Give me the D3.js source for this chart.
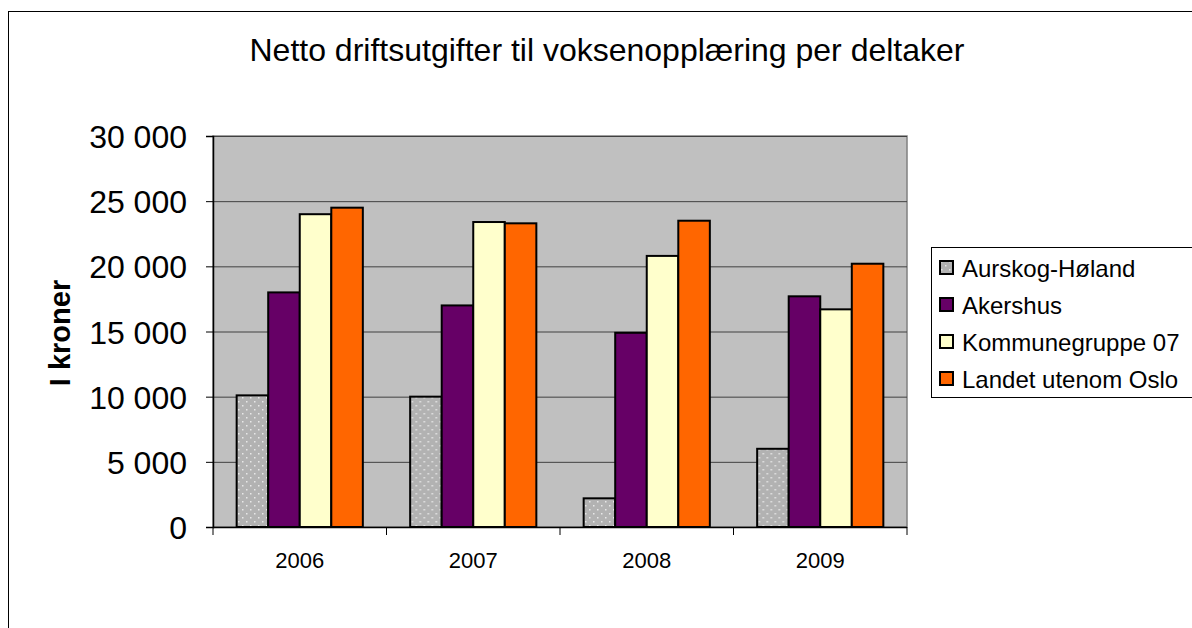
<!doctype html>
<html lang="no">
<head>
  <meta charset="UTF-8">
  <title>Netto driftsutgifter til voksenopplæring per deltaker</title>
  <script src="https://cdn.jsdelivr.net/npm/d3@7"></script>
  <style>
    body { margin: 0; background: #fff; }
    text { font-family: "Liberation Sans", Arial, sans-serif; fill: #000; }
  </style>
</head>
<body>
<script>
  // data
  var years = ["2006", "2007", "2008", "2009"];
  var seriesNames = ["Aurskog-Høland", "Akershus", "Kommunegruppe 07", "Landet utenom Oslo"];
  var aurskog = [10100, 10000, 2200, 6000];
  var akershus = [18000, 17000, 14900, 17700];
  var kommunegruppe = [24000, 23400, 20800, 16700];
  var landet = [24500, 23300, 23500, 20200];
  var yTicks = [0, 5000, 10000, 15000, 20000, 25000, 30000];
  var seriesValues = [aurskog, akershus, kommunegruppe, landet];
  var colors = ["url(#dots)", "#660066", "#ffffcc", "#ff6600"];

  var W = 1192, H = 628;
  var plot = { left: 213, top: 136, right: 907, bottom: 527 };

  var svg = d3.select("body").append("svg")
    .attr("width", W)
    .attr("height", H);

  // dotted pattern for the first series
  var pat = svg.append("defs").append("pattern")
    .attr("id", "dots")
    .attr("width", 8).attr("height", 8)
    .attr("patternUnits", "userSpaceOnUse");
  pat.append("rect").attr("width", 8).attr("height", 8).attr("fill", "#b2b2b2");
  pat.append("rect").attr("x", 1).attr("y", 1).attr("width", 1.5).attr("height", 1.5).attr("fill", "#e8e8e8");
  pat.append("rect").attr("x", 5).attr("y", 5).attr("width", 1.5).attr("height", 1.5).attr("fill", "#e8e8e8");

  // chart frame
  svg.append("rect")
    .attr("x", 8.5).attr("y", 11.5)
    .attr("width", 1200).attr("height", 640)
    .attr("fill", "#fff").attr("stroke", "#000").attr("stroke-width", 1);

  var x0 = d3.scaleBand()
    .domain(years)
    .range([plot.left, plot.right])
    .paddingInner(0)
    .paddingOuter(0);

  var groupPad = x0.bandwidth() * 1.5 / 5.5 / 2;
  var x1 = d3.scaleBand()
    .domain(d3.range(seriesNames.length))
    .range([groupPad, x0.bandwidth() - groupPad]);

  var y = d3.scaleLinear()
    .domain([0, 30000])
    .range([plot.bottom, plot.top]);

  var fmt = d3.formatLocale({ decimal: ",", thousands: " ", grouping: [3], currency: ["", " kr"] }).format(",");

  // plot background
  svg.append("rect")
    .attr("x", plot.left).attr("y", plot.top)
    .attr("width", plot.right - plot.left).attr("height", plot.bottom - plot.top)
    .attr("fill", "#c0c0c0").attr("stroke", "#808080").attr("stroke-width", 1.5);

  // gridlines
  svg.append("g")
    .selectAll("line")
    .data(yTicks.slice(1))
    .enter().append("line")
    .attr("x1", plot.left).attr("x2", plot.right)
    .attr("y1", function(d) { return y(d) + 0.5; })
    .attr("y2", function(d) { return y(d) + 0.5; })
    .attr("stroke", "#404040").attr("stroke-width", 1);

  // bars
  var groups = svg.append("g")
    .selectAll("g")
    .data(years)
    .enter().append("g")
    .attr("transform", function(d) { return "translate(" + x0(d) + ",0)"; });

  groups.selectAll("rect")
    .data(function(d, i) {
      return seriesValues.map(function(s, k) { return { k: k, v: s[i] }; });
    })
    .enter().append("rect")
    .attr("x", function(d) { return x1(d.k); })
    .attr("y", function(d) { return y(d.v); })
    .attr("width", x1.bandwidth())
    .attr("height", function(d) { return y(0) - y(d.v); })
    .attr("fill", function(d) { return colors[d.k]; })
    .attr("stroke", "#000")
    .attr("stroke-width", 2);

  // y axis
  var yAxis = d3.axisLeft(y)
    .tickValues(yTicks)
    .tickFormat(fmt)
    .tickSize(7)
    .tickPadding(19);

  var gy = svg.append("g")
    .attr("transform", "translate(" + plot.left + ",0)")
    .call(yAxis);
  gy.select(".domain").attr("stroke", "#000").attr("stroke-width", 1.5);
  gy.selectAll(".tick line").attr("stroke", "#000");
  gy.selectAll(".tick text")
    .attr("font-size", "32px")
    .attr("dy", "0.36em")
    .style("font-family", "'Liberation Sans', Arial, sans-serif");

  // x axis
  var gx = svg.append("g")
    .attr("transform", "translate(0," + plot.bottom + ")");
  gx.append("line")
    .attr("x1", plot.left).attr("x2", plot.right)
    .attr("y1", 0.5).attr("y2", 0.5)
    .attr("stroke", "#000").attr("stroke-width", 1.5);
  gx.selectAll(".xtick")
    .data(years.concat(["end"]))
    .enter().append("line")
    .attr("class", "xtick")
    .attr("x1", function(d, i) { return i < years.length ? x0(d) : plot.right; })
    .attr("x2", function(d, i) { return i < years.length ? x0(d) : plot.right; })
    .attr("y1", 0).attr("y2", 8)
    .attr("stroke", "#000");
  gx.selectAll(".xlabel")
    .data(years)
    .enter().append("text")
    .attr("class", "xlabel")
    .attr("x", function(d) { return x0(d) + x0.bandwidth() / 2; })
    .attr("y", 41)
    .attr("text-anchor", "middle")
    .attr("font-size", "22px")
    .text(function(d) { return d; });

  // y axis title
  svg.append("text")
    .attr("transform", "translate(70,333) rotate(-90)")
    .attr("text-anchor", "middle")
    .attr("font-size", "29px")
    .attr("font-weight", "bold")
    .text("I kroner");

  // title
  svg.append("text")
    .attr("x", 607)
    .attr("y", 61)
    .attr("text-anchor", "middle")
    .attr("font-size", "32px")
    .text("Netto driftsutgifter til voksenopplæring per deltaker");

  // legend
  var legend = svg.append("g");
  legend.append("rect")
    .attr("x", 931.5).attr("y", 247.5)
    .attr("width", 300).attr("height", 150)
    .attr("fill", "#fff").attr("stroke", "#000").attr("stroke-width", 1);

  var items = legend.selectAll(".item")
    .data(seriesNames)
    .enter().append("g")
    .attr("class", "item")
    .attr("transform", function(d, i) { return "translate(940," + (268 + i * 37) + ")"; });
  items.append("rect")
    .attr("x", 0).attr("y", -7)
    .attr("width", 13).attr("height", 13)
    .attr("fill", function(d, i) { return colors[i]; })
    .attr("stroke", "#000").attr("stroke-width", 2);
  items.append("text")
    .attr("x", 22).attr("y", 0)
    .attr("dy", "0.36em")
    .attr("font-size", "24px")
    .text(function(d) { return d; });
</script>
</body>
</html>
